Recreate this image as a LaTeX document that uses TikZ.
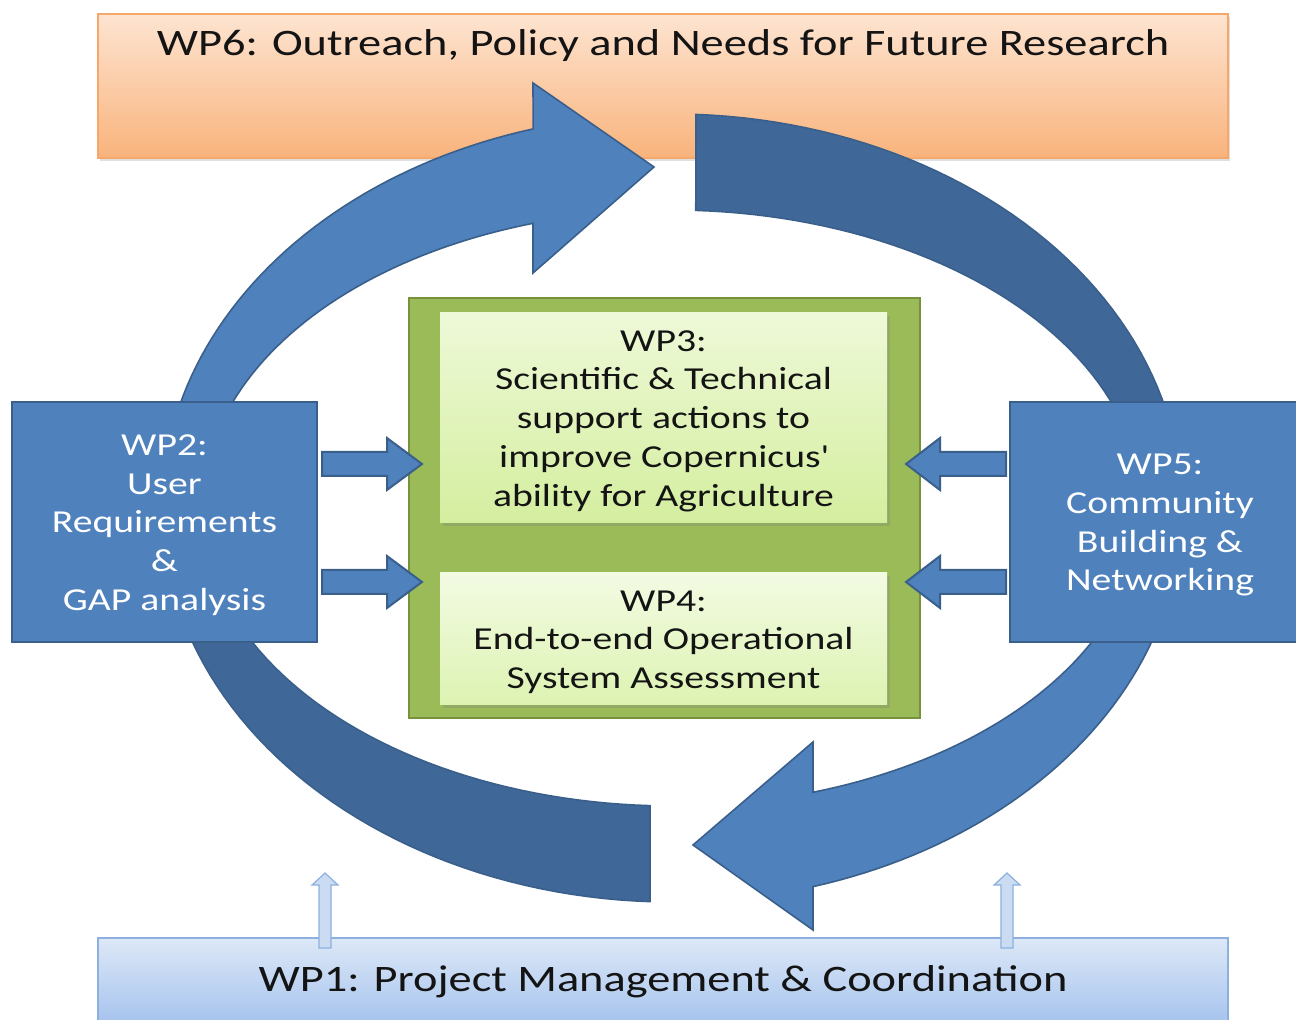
\documentclass[tikz,border=0pt]{standalone}
\usepackage{fontspec}
\setmainfont{Carlito}[FakeStretch=1.24]
\usetikzlibrary{positioning, calc, shadows}

\definecolor{wpblue}{HTML}{4F81BD}
\definecolor{wpblueline}{HTML}{3A5F8B}
\definecolor{ringdark}{HTML}{3F6899}
\definecolor{wpgreen}{HTML}{9BBB59}
\definecolor{wpgreenline}{HTML}{76923C}
\definecolor{orangetop}{HTML}{FDE4D1}
\definecolor{orangebot}{HTML}{F9B37C}
\definecolor{orangeline}{HTML}{F5A86A}
\definecolor{bluetop}{HTML}{DDE8F7}
\definecolor{bluebot}{HTML}{A7C4EE}
\definecolor{blueline}{HTML}{8DB0DE}
\definecolor{limetop}{HTML}{EEF9D8}
\definecolor{limebot}{HTML}{D4EE9F}
\definecolor{paletop}{HTML}{F3FBE3}
\definecolor{palebot}{HTML}{DDF3B2}
\definecolor{upfill}{HTML}{CADBF2}
\definecolor{textdark}{HTML}{141414}

% lifts the first line so that the text sits as in the reference
\newcommand\wplift{\rule{0pt}{13.4pt}}
\newcommand\titlelift{\rule{0pt}{15pt}}

\begin{document}
\begin{tikzpicture}[
    x=0.5pt, y=-0.5pt,
    titlefont/.style={font=\fontsize{18.7}{22}\selectfont, text=textdark},
    bodyfont/.style={font=\fontsize{16}{19.4}\selectfont, align=center},
    wpband/.style={rectangle, draw=orangeline, top color=orangetop, bottom color=orangebot, line width=0.8pt,
        drop shadow={shadow xshift=1pt, shadow yshift=-1.5pt, opacity=0.25}},
    wpbase/.style={rectangle, draw=blueline, top color=bluetop, bottom color=bluebot, line width=0.8pt},
    wpside/.style={rectangle, draw=wpblueline, fill=wpblue, line width=1.2pt, bodyfont, text=white},
    wpcore/.style={rectangle, draw=wpgreenline, fill=wpgreen, line width=1.2pt},
    wpinner/.style={rectangle, bodyfont, text=textdark,
        drop shadow={shadow xshift=1.5pt, shadow yshift=-1.5pt, opacity=0.3}},
    ringarrow/.style={fill=wpblue, draw=wpblueline, line width=0.8pt},
    ringtail/.style={fill=ringdark, draw=wpblueline, line width=0.8pt},
    blockarrow/.style={fill=wpblue, draw=wpblueline, line width=1pt},
    uparrow/.style={fill=upfill, draw=blueline, line width=0.6pt}
]
    \useasboundingbox (0,0) rectangle (1296,1020);

    % Outer work packages
    \node (wp6) [wpband, minimum width=565pt, minimum height=72pt] at (663,86) {};
    \node (wp6t) [titlefont] at ($(wp6.north)+(0,32)$) {WP6: Outreach, Policy and Needs for Future Research};
    \node (wp1) [wpbase, minimum width=565pt, minimum height=42pt, titlefont] at (663,980) {\titlelift WP1: Project Management \& Coordination};

    % Support arrows from WP1
    \foreach \x in {325,1007}
        \filldraw[uparrow] (\x-6,948) -- (\x-6,885) -- (\x-13,885) -- (\x,873) -- (\x+13,885) -- (\x+6,885) -- (\x+6,948) -- cycle;

    % Cycle of arrows
    \filldraw[ringarrow] plot[domain=180:254.2, samples=50] ({672+510*cos(\x)},{508+394*sin(\x)})
        -- (533,83) -- (654,167) -- (533,273)
        -- plot[domain=252.8:180, samples=50] ({672+470*cos(\x)},{508+298*sin(\x)}) -- cycle;
    \filldraw[ringtail] plot[domain=272.7:360, samples=50] ({672+510*cos(\x)},{508+394*sin(\x)})
        -- plot[domain=360:272.9, samples=50] ({672+470*cos(\x)},{508+298*sin(\x)}) -- cycle;
    \filldraw[ringarrow] plot[domain=0:73.95, samples=50] ({672+510*cos(\x)},{508+394*sin(\x)})
        -- (813,930) -- (693,845) -- (813,742)
        -- plot[domain=72.54:0, samples=50] ({672+470*cos(\x)},{508+298*sin(\x)}) -- cycle;
    \filldraw[ringtail] plot[domain=92.47:180, samples=50] ({672+510*cos(\x)},{508+394*sin(\x)})
        -- plot[domain=180:92.68, samples=50] ({672+470*cos(\x)},{508+298*sin(\x)}) -- cycle;

    % Side work packages
    \node (wp2) [wpside, minimum width=152.5pt, minimum height=120pt] at (164.5,522)
        {\wplift WP2:\\User\\Requirements\\\&\\GAP analysis};
    \node (wp5) [wpside, minimum width=150pt, minimum height=120pt] at (1160,522)
        {\wplift WP5:\\Community\\Building \&\\Networking};

    % Core work packages
    \node (core) [wpcore, minimum width=255.5pt, minimum height=210pt] at (664.5,508) {};
    \node (wp3) [wpinner, top color=limetop, bottom color=limebot, minimum width=223.5pt, minimum height=105pt] at (663.5,418)
        {\wplift WP3:\\Scientific \& Technical\\support actions to\\improve Copernicus\textquotesingle\\ability for Agriculture};
    \node (wp4) [wpinner, top color=paletop, bottom color=palebot, minimum width=223.5pt, minimum height=66pt] at (663.5,639)
        {\wplift WP4:\\End-to-end Operational\\System Assessment};

    % Inputs to the core
    \foreach \y in {464,582} {
        \filldraw[blockarrow] (322,\y-12) -- (387,\y-12) -- (387,\y-26) -- (422,\y) -- (387,\y+26) -- (387,\y+12) -- (322,\y+12) -- cycle;
        \filldraw[blockarrow] (1006,\y-12) -- (940,\y-12) -- (940,\y-26) -- (906,\y) -- (940,\y+26) -- (940,\y+12) -- (1006,\y+12) -- cycle;
    }
\end{tikzpicture}
\end{document}
